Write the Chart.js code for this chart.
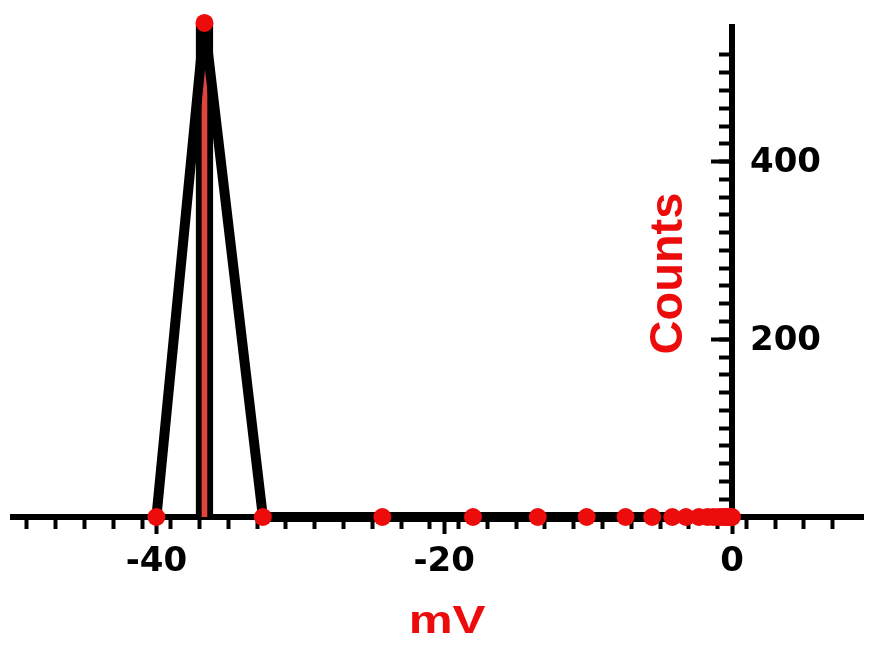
<!DOCTYPE html>
<html>
<head>
<meta charset="utf-8">
<script src="https://cdn.jsdelivr.net/npm/chart.js@4.4.1/dist/chart.umd.min.js"></script>
<style>
  html, body { margin: 0; padding: 0; background: #fff; }
  canvas { display: block; }
</style>
</head>
<body>
<canvas id="zetaChart" width="872" height="646"></canvas>
<script>
// Peak bar (mV / counts)
const peakMv = [-36.66];
const peakCounts = [556];

// Black trace with red markers
const traceMv = [-40.0, -36.66, -32.6, -24.3, -18.0, -13.5, -10.1, -7.4, -5.55, -4.15, -3.2, -2.3, -1.7, -1.3, -0.95, -0.7, -0.5, -0.35, -0.2, -0.1, 0];
const traceCounts = [0, 556, 0, 0, 0, 0, 0, 0, 0, 0, 0, 0, 0, 0, 0, 0, 0, 0, 0, 0, 0];

// Axis labels
const xTickLabels = [-40, -20, 0];
const yTickLabels = [200, 400];

const RED = '#ec0c0c';

// object-positioned axes should not eat layout space
const noSpace = s => { if (s.isHorizontal()) s.height = 0; else s.width = 0; };
const keepTicks = test => s => { s.ticks = s.ticks.filter(t => test(t.value)); };

const axisText = {
    id: 'axisText',
    afterDraw(chart) {
        const ctx = chart.ctx;
        const x = chart.scales.x;
        const y = chart.scales.y;
        ctx.save();

        // y tick labels sit right of the axis
        ctx.fillStyle = '#000';
        ctx.font = 'bold 34px "DejaVu Sans"';
        ctx.textAlign = 'left';
        ctx.textBaseline = 'middle';
        yTickLabels.forEach(v => {
            ctx.fillText(String(v), x.getPixelForValue(0) + 18, y.getPixelForValue(v) + 2);
        });

        // "Counts" title, left of the y axis
        ctx.save();
        ctx.translate(x.getPixelForValue(-4.4), y.getPixelForValue(274));
        ctx.rotate(-Math.PI / 2);
        ctx.fillStyle = RED;
        ctx.font = 'bold 47px "Liberation Sans"';
        ctx.textAlign = 'center';
        ctx.textBaseline = 'middle';
        ctx.fillText('Counts', 0, 0);
        ctx.restore();

        // "mV" title under the x axis
        ctx.save();
        ctx.translate(x.getPixelForValue(-19.8), chart.chartArea.bottom + 106);
        ctx.scale(1.3, 1);
        ctx.fillStyle = RED;
        ctx.font = 'bold 38px "Liberation Sans"';
        ctx.textAlign = 'center';
        ctx.textBaseline = 'middle';
        ctx.fillText('mV', 0, 0);
        ctx.restore();

        ctx.restore();
    }
};

const ctx = document.getElementById('zetaChart').getContext('2d');
new Chart(ctx, {
    type: 'line',
    data: {
        datasets: [{
            type: 'line',
            data: traceMv.map((v, i) => ({ x: v, y: traceCounts[i] })),
            borderColor: '#000',
            borderWidth: 10,
            borderJoinStyle: 'round',
            tension: 0,
            pointRadius: 9,
            pointBackgroundColor: RED,
            pointBorderWidth: 0,
            clip: false,
            order: 1
        }, {
            type: 'bar',
            data: peakMv.map((v, i) => ({ x: v, y: peakCounts[i] })),
            backgroundColor: '#e0453d',
            borderColor: '#000',
            borderWidth: 6,
            barThickness: 17,
            clip: false,
            order: 2
        }]
    },
    options: {
        responsive: false,
        devicePixelRatio: 1,
        animation: false,
        layout: {
            padding: { left: 12.5, right: 7.5, top: 26.5, bottom: 129 }
        },
        plugins: {
            legend: { display: false },
            tooltip: { enabled: false }
        },
        scales: {
            x: {
                type: 'linear',
                min: -50,
                max: 9.1,
                offset: false,
                position: { y: 0 },
                ticks: { stepSize: 2, display: false },
                afterBuildTicks: keepTicks(v => Math.abs(v % 2) < 1e-6 && v > -50),
                afterFit: noSpace,
                grid: { drawOnChartArea: false, tickLength: 9, tickWidth: 4, tickColor: '#000' },
                border: { width: 6, color: '#000' }
            },
            xMajor: {
                type: 'linear',
                axis: 'x',
                min: -50,
                max: 9.1,
                offset: false,
                position: { y: 0 },
                ticks: {
                    stepSize: 20,
                    color: '#000',
                    padding: 8,
                    maxRotation: 0,
                    autoSkip: false,
                    font: { family: 'DejaVu Sans', weight: 'bold', size: 34 }
                },
                afterBuildTicks: keepTicks(v => xTickLabels.includes(v)),
                afterFit: noSpace,
                grid: { drawOnChartArea: false, tickLength: 17, tickWidth: 4, tickColor: '#000' },
                border: { display: false }
            },
            y: {
                type: 'linear',
                min: 0,
                max: 552,
                position: { x: 0 },
                ticks: { stepSize: 20, display: false },
                afterBuildTicks: keepTicks(v => Math.abs(v % 20) < 1e-6 && v > 0),
                afterFit: noSpace,
                grid: { drawOnChartArea: false, tickLength: 10, tickWidth: 4, tickColor: '#000' },
                border: { width: 6, color: '#000' }
            },
            yMajor: {
                type: 'linear',
                axis: 'y',
                min: 0,
                max: 552,
                position: { x: 0 },
                ticks: { stepSize: 200, display: false },
                afterBuildTicks: keepTicks(v => yTickLabels.includes(v)),
                afterFit: noSpace,
                grid: { drawOnChartArea: false, tickLength: 21, tickWidth: 4, tickColor: '#000' },
                border: { display: false }
            }
        }
    },
    plugins: [axisText]
});
</script>
</body>
</html>
